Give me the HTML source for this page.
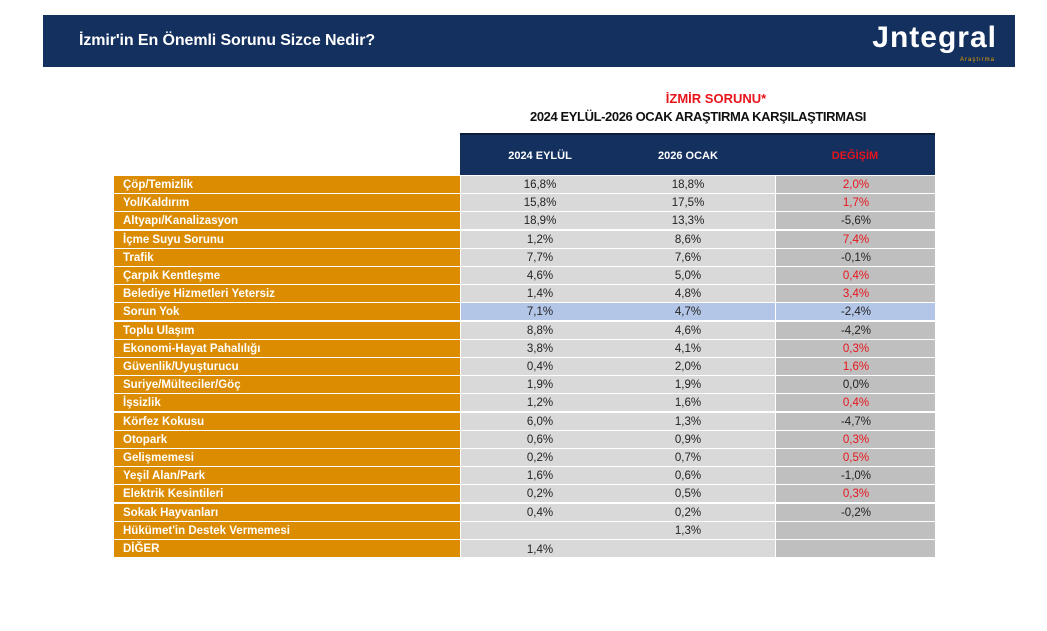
<!DOCTYPE html><html><head><meta charset="utf-8"><style>
body{margin:0;width:1047px;height:631px;background:#fff;position:relative;overflow:hidden;font-family:"Liberation Sans",sans-serif}
.hdr{position:absolute;left:43px;top:15px;width:972px;height:52px;background:#14305f}
.ht{position:absolute;left:36px;top:17px;color:#fff;font-size:16px;font-weight:bold;letter-spacing:-0.1px}
.logo{position:absolute;right:18px;top:6px;color:#fff;font-size:30px;font-weight:bold;letter-spacing:1px}
.logo small{position:absolute;right:2px;top:36px;font-size:6px;color:#e8a200;font-weight:normal}
.t1{position:absolute;left:560px;width:312px;top:91px;text-align:center;color:#e8141c;font-weight:bold;font-size:13px}
.t2{position:absolute;left:480px;width:436px;top:109px;text-align:center;color:#111;font-weight:bold;font-size:13px;letter-spacing:-0.4px}
.th{position:absolute;top:133px;left:460px;width:475px;height:42px;background:#14305f;border-top:2px solid #0a1c3a;box-sizing:border-box}
.th div{position:absolute;top:15px;font-size:11px;font-weight:bold;color:#fff;width:160px;text-align:center}
.r{position:absolute;left:114px;width:821px;height:17px}
.r .l{position:absolute;left:0;width:346px;height:17px;background:#dc8c00;color:#fff;font-weight:bold;font-size:11.5px;line-height:19px;padding-left:9px;box-sizing:border-box}
.r .a{position:absolute;left:347px;width:314px;height:17px;background:#d9d9d9}
.r .c{position:absolute;left:662px;width:159px;height:17px;background:#bfbfbf}
.r.b .a,.r.b .c{background:#b4c6e7}
.r span{position:absolute;top:1px;line-height:17px;font-size:11.5px;color:#222;width:100px;text-align:center}
.red{color:#e8141c!important}
</style></head><body>
<div class="hdr"><div class="ht">İzmir'in En Önemli Sorunu Sizce Nedir?</div><div class="logo">Jntegral<small>Araştırma</small></div></div>
<div class="t1">İZMİR SORUNU*</div>
<div class="t2">2024 EYLÜL-2026 OCAK ARAŞTIRMA KARŞILAŞTIRMASI</div>
<div class="th"><div style="left:0">2024 EYLÜL</div><div style="left:148px">2026 OCAK</div><div style="left:315px;color:#e8141c">DEĞİŞİM</div></div>
<div id="rows"></div>
<script>
var d=[["Çöp/Temizlik","16,8%","18,8%","2,0%",1],["Yol/Kaldırım","15,8%","17,5%","1,7%",1],["Altyapı/Kanalizasyon","18,9%","13,3%","-5,6%",0],["İçme Suyu Sorunu","1,2%","8,6%","7,4%",1],["Trafik","7,7%","7,6%","-0,1%",0],["Çarpık Kentleşme","4,6%","5,0%","0,4%",1],["Belediye Hizmetleri Yetersiz","1,4%","4,8%","3,4%",1],["Sorun Yok","7,1%","4,7%","-2,4%",0],["Toplu Ulaşım","8,8%","4,6%","-4,2%",0],["Ekonomi-Hayat Pahalılığı","3,8%","4,1%","0,3%",1],["Güvenlik/Uyuşturucu","0,4%","2,0%","1,6%",1],["Suriye/Mülteciler/Göç","1,9%","1,9%","0,0%",0],["İşsizlik","1,2%","1,6%","0,4%",1],["Körfez Kokusu","6,0%","1,3%","-4,7%",0],["Otopark","0,6%","0,9%","0,3%",1],["Gelişmemesi","0,2%","0,7%","0,5%",1],["Yeşil Alan/Park","1,6%","0,6%","-1,0%",0],["Elektrik Kesintileri","0,2%","0,5%","0,3%",1],["Sokak Hayvanları","0,4%","0,2%","-0,2%",0],["Hükümet'in Destek Vermemesi","","1,3%","",0],["DİĞER","1,4%","","",0]];
var h="";d.forEach(function(r,i){var t=176+i*18.2;h+='<div class="r'+(i==7?' b':'')+'" style="top:'+t+'px"><div class="l">'+r[0]+'</div><div class="a"></div><div class="c"></div><span style="left:376px'+(i==20?';top:2px':'')+'">'+r[1]+'</span><span style="left:524px">'+r[2]+'</span><span class="'+(r[4]?'red':'')+'" style="left:692px">'+r[3]+'</span></div>'});
document.getElementById("rows").innerHTML=h;
</script>
</body></html>
